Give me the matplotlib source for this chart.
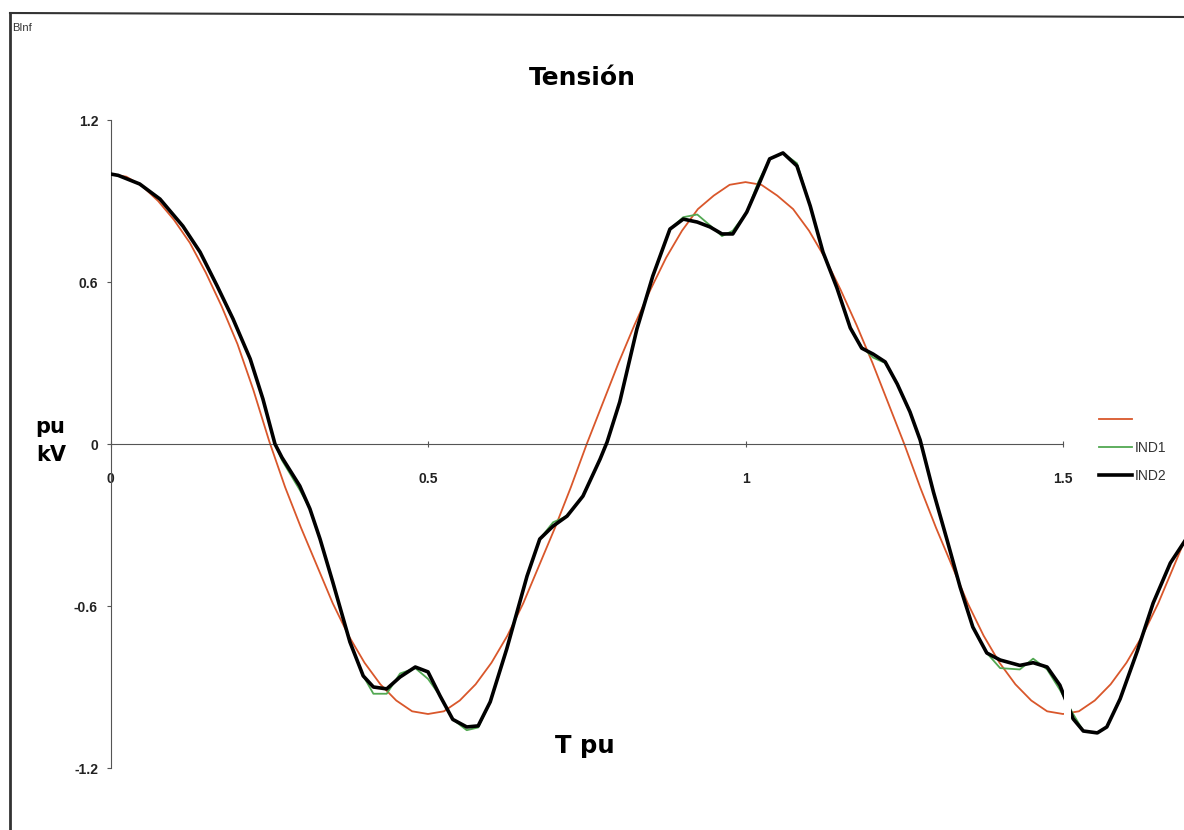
import numpy as np
import matplotlib
matplotlib.use('Agg')
import matplotlib.pyplot as plt
from matplotlib.lines import Line2D

# reference wave (red), sampled every 0.025 pu from 0 to 1.7
t_ref = np.linspace(0, 1.7, 69)
v_ref = [1.0, 0.99, 0.955, 0.90, 0.83, 0.745, 0.635, 0.51, 0.37, 0.20,
         0.01, -0.16, -0.31, -0.45, -0.59, -0.71, -0.81, -0.89, -0.95, -0.99,
         -1.0, -0.99, -0.95, -0.89, -0.81, -0.71, -0.59, -0.45, -0.31, -0.16,
         0.0, 0.15, 0.30, 0.44, 0.57, 0.69, 0.79, 0.87, 0.92, 0.96,
         0.97, 0.96, 0.92, 0.87, 0.79, 0.69, 0.57, 0.44, 0.30, 0.15,
         0.0, -0.16, -0.31, -0.45, -0.59, -0.71, -0.81, -0.89, -0.95, -0.99,
         -1.0, -0.99, -0.95, -0.89, -0.81, -0.71, -0.59, -0.45, -0.31]

# IND1 / IND2 samples
t_ind = [0.0, 0.012, 0.046, 0.078, 0.114, 0.141, 0.168, 0.193, 0.220, 0.240,
         0.259, 0.270, 0.298, 0.314, 0.330, 0.350, 0.377, 0.398, 0.414, 0.435,
         0.456, 0.480, 0.500, 0.519, 0.539, 0.561, 0.579, 0.598, 0.624, 0.656,
         0.676, 0.697, 0.719, 0.744, 0.771, 0.782, 0.802, 0.829, 0.854, 0.881,
         0.902, 0.924, 0.944, 0.963, 0.980, 1.002, 1.020, 1.038, 1.059, 1.081,
         1.102, 1.122, 1.144, 1.165, 1.183, 1.201, 1.220, 1.239, 1.259, 1.275,
         1.296, 1.317, 1.338, 1.358, 1.380, 1.401, 1.432, 1.453, 1.475, 1.495,
         1.516, 1.532, 1.554, 1.569, 1.590, 1.617, 1.642, 1.669, 1.70]
v_ind2 = [1.0, 0.995, 0.963, 0.907, 0.807, 0.711, 0.585, 0.463, 0.315, 0.167,
          0.0, -0.05, -0.155, -0.24, -0.352, -0.511, -0.733, -0.859, -0.90, -0.907,
          -0.863, -0.826, -0.844, -0.933, -1.02, -1.048, -1.044, -0.955, -0.759, -0.489,
          -0.352, -0.304, -0.267, -0.193, -0.056, 0.007, 0.156, 0.426, 0.622, 0.796,
          0.833, 0.822, 0.804, 0.778, 0.778, 0.859, 0.956, 1.056, 1.078, 1.03,
          0.881, 0.711, 0.578, 0.43, 0.355, 0.333, 0.304, 0.222, 0.119, 0.015,
          -0.178, -0.352, -0.53, -0.678, -0.774, -0.80, -0.82, -0.81, -0.826, -0.893,
          -1.018, -1.063, -1.07, -1.048, -0.944, -0.767, -0.589, -0.441, -0.33]
v_ind1 = [1.0, 0.995, 0.963, 0.907, 0.807, 0.711, 0.585, 0.463, 0.315, 0.167,
          0.0, -0.06, -0.17, -0.24, -0.352, -0.511, -0.733, -0.859, -0.925, -0.925,
          -0.85, -0.83, -0.87, -0.933, -1.02, -1.06, -1.05, -0.955, -0.759, -0.489,
          -0.352, -0.29, -0.267, -0.193, -0.056, 0.007, 0.156, 0.426, 0.622, 0.796,
          0.84, 0.85, 0.81, 0.77, 0.79, 0.859, 0.97, 1.056, 1.078, 1.04,
          0.881, 0.711, 0.578, 0.43, 0.36, 0.32, 0.30, 0.222, 0.119, 0.015,
          -0.178, -0.352, -0.53, -0.678, -0.774, -0.83, -0.835, -0.795, -0.835, -0.91,
          -1.0, -1.063, -1.07, -1.048, -0.944, -0.767, -0.589, -0.441, -0.33]

x_ticks = [0, 0.5, 1, 1.5]
x_labels = ['0', '0.5', '1', '1.5']
y_ticks = [-1.2, -0.6, 0, 0.6, 1.2]
y_labels = ['-1.2', '-0.6', '0', '0.6', '1.2']

plt.rcParams['font.family'] = ['Liberation Sans', 'DejaVu Sans']

W, H = 1184, 830
X0, PX_PER_T = 110.5, 635.0
fig = plt.figure(figsize=(W / 100, H / 100), dpi=100)
ax = fig.add_axes([X0 / W, 62 / H, (W - X0) / W, 648 / H])

ax.plot(t_ref, v_ref, color='#d9572b', lw=1.3, zorder=2)
ax.plot(t_ind, v_ind1, color='#52a852', lw=1.3, zorder=3)
ax.plot(t_ind, v_ind2, color='black', lw=2.6, zorder=4)

# white break in the traces just after 1.5
ax.axvspan(1.501, 1.513, ymin=0.04, ymax=0.21, color='white', lw=0, zorder=5)

ax.set_xlim(0, (W - X0) / PX_PER_T)
ax.set_ylim(-1.2, 1.2)

for s in ['top', 'right']:
    ax.spines[s].set_visible(False)
ax.spines['bottom'].set_position(('data', 0))
ax.spines['bottom'].set_bounds(0, 1.5)
ax.spines['bottom'].set_color('#555555')
ax.spines['left'].set_color('#555555')

ax.set_xticks(x_ticks)
ax.set_xticklabels(x_labels)
ax.set_yticks(y_ticks)
ax.set_yticklabels(y_labels)
ax.tick_params(axis='x', direction='inout', length=5, pad=18, labelsize=10,
               colors='#555555', labelcolor='#222222')
ax.tick_params(axis='y', direction='out', length=3, pad=6, labelsize=10,
               colors='#555555', labelcolor='#222222')
for lab in ax.get_xticklabels() + ax.get_yticklabels():
    lab.set_fontweight('bold')

handles = [Line2D([], [], color='#d9572b', lw=1.3),
           Line2D([], [], color='#52a852', lw=1.3),
           Line2D([], [], color='black', lw=2.6)]
fig.legend(handles, [' ', 'IND1', 'IND2'], loc='center left',
           bbox_to_anchor=(1086 / W, 1 - 448 / H), frameon=False,
           fontsize=10, handlelength=2.4, handletextpad=0.2, labelspacing=1.0,
           labelcolor='#333333')

fig.text(582 / W, 1 - 78 / H, 'Tensión', ha='center', va='center',
         fontsize=18, fontweight='bold', family='DejaVu Sans')
fig.text(585 / W, 1 - 746 / H, 'T pu', ha='center', va='center',
         fontsize=17.5, fontweight='bold', family='DejaVu Sans')
fig.text(50 / W, 1 - 427 / H, 'pu', ha='center', va='center',
         fontsize=15, fontweight='bold', family='DejaVu Sans')
fig.text(51 / W, 1 - 455 / H, 'kV', ha='center', va='center',
         fontsize=15, fontweight='bold', family='DejaVu Sans')
fig.text(12 / W, 1 - 28 / H, 'BInf', ha='left', va='center', fontsize=8,
         color='#333333')

# outer chart frame
fig.add_artist(Line2D([10 / W, 1.0], [1 - 13 / H, 1 - 17 / H], color='#333333', lw=1.5))
fig.add_artist(Line2D([10 / W, 10 / W], [1 - 13 / H, 0], color='#333333', lw=2))

fig.savefig('out.png', dpi=100)
